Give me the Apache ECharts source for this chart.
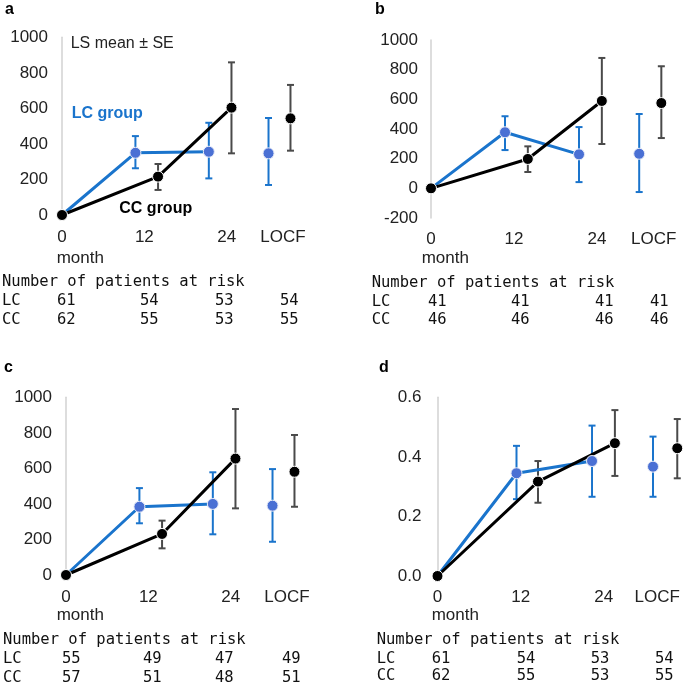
<!DOCTYPE html>
<html>
<head>
<meta charset="utf-8">
<script src="https://cdn.jsdelivr.net/npm/echarts@6/dist/echarts.min.js"></script>
<style>
html,body{margin:0;padding:0;background:#fff;}
#chart{width:685px;height:686px;}
</style>
</head>
<body>
<div id="chart"></div>
<script>
// ---- data ----
const tickLabels = ['0', '12', '24', 'LOCF'];
const tickPos = [0, 12, 24, 32.2];
const tickPosD = [0, 12, 24, 31.7];
// x positions of the offset points (months; LOCF plotted past 24)
const xLC = [0, 10.7, 21.4, 30.1];
const xCC = [0, 14.0, 24.7, 33.3];
const xLCd = [0, 11.4, 22.3, 31.1];
const xCCd = [0, 14.5, 25.6, 34.6];

// panel a
const aLC = [0, 350, 356, 347];
const aLClo = [null, 263, 206, 169];
const aLChi = [null, 444, 519, 546];
const aCC = [0, 216, 604, 544];
const aCClo = [null, 141, 347, 362];
const aCChi = [null, 287, 859, 732];
// panel b
const bLC = [0, 378, 229, 233];
const bLClo = [null, 258, 42, -25];
const bLChi = [null, 486, 413, 501];
const bCC = [0, 198, 589, 575];
const bCClo = [null, 110, 299, 339];
const bCChi = [null, 283, 879, 823];
// panel c
const cLC = [0, 384, 400, 390];
const cLClo = [null, 291, 229, 187];
const cLChi = [null, 489, 578, 596];
const cCC = [0, 231, 655, 581];
const cCClo = [null, 150, 375, 384];
const cCChi = [null, 306, 934, 788];
// panel d
const dLC = [0, 0.345, 0.386, 0.367];
const dLClo = [null, 0.258, 0.266, 0.266];
const dLChi = [null, 0.437, 0.505, 0.468];
const dCC = [0, 0.317, 0.446, 0.429];
const dCClo = [null, 0.246, 0.336, 0.328];
const dCChi = [null, 0.386, 0.557, 0.527];

// patients at risk
const riskHeader = 'Number of patients at risk';
const riskRows = ['LC', 'CC'];
const aRiskLC = [61, 54, 53, 54];
const aRiskCC = [62, 55, 53, 55];
const bRiskLC = [41, 41, 41, 41];
const bRiskCC = [46, 46, 46, 46];
const cRiskLC = [55, 49, 47, 49];
const cRiskCC = [57, 51, 48, 51];
const dRiskLC = [61, 54, 53, 54];
const dRiskCC = [62, 55, 53, 55];

// ---- layout ----
const BLUE = '#1a74cc';
const DOT_BLUE = '#4a70d4';
const GRAY = '#4a4a4a';
const FONT = "'Liberation Sans', Arial, Helvetica, sans-serif";
const MONO = "'DejaVu Sans Mono', monospace";

const panels = [
  {letter:'a', lx:5, ly:10, grid:{left:62, top:37.3, width:247, height:177.7}, xmax:36, ymin:0, ymax:1000, yint:200, dec:0, ylm:14, xlm:14,
   xl:xLC, xc:xCC, ticks:tickPos,
   lc:aLC, lcLo:aLClo, lcHi:aLChi, cc:aCC, ccLo:aCClo, ccHi:aCChi,
   riskLC:aRiskLC, riskCC:aRiskCC, monthX:56.7, monthY:258.3, tx:2, cols:[57,140,215,280], ty:[281.7,300.7,320]},
  {letter:'b', lx:375, ly:10, grid:{left:431, top:40, width:249, height:178}, xmax:36, ymin:-200, ymax:1000, yint:200, dec:0, ylm:13, xlm:13,
   xl:xLC, xc:xCC, ticks:tickPos,
   lc:bLC, lcLo:bLClo, lcHi:bLChi, cc:bCC, ccLo:bCClo, ccHi:bCChi,
   riskLC:bRiskLC, riskCC:bRiskCC, monthX:421.7, monthY:258.3, tx:371.7, cols:[428,511,595,650], ty:[283.3,302.3,320]},
  {letter:'c', lx:4, ly:368, grid:{left:66, top:397.3, width:247, height:177.7}, xmax:36, ymin:0, ymax:1000, yint:200, dec:0, ylm:14, xlm:14,
   xl:xLC, xc:xCC, ticks:tickPos,
   lc:cLC, lcLo:cLClo, lcHi:cLChi, cc:cCC, ccLo:cCClo, ccHi:cCChi,
   riskLC:cRiskLC, riskCC:cRiskCC, monthX:56.7, monthY:615, tx:3, cols:[62,143,215,282], ty:[640,659,678]},
  {letter:'d', lx:379, ly:368, grid:{left:437.5, top:397.3, width:246, height:178.7}, xmax:35.5, ymin:0, ymax:0.6, yint:0.2, dec:1, ylm:16, xlm:13,
   xl:xLCd, xc:xCCd, ticks:tickPosD,
   lc:dLC, lcLo:dLClo, lcHi:dLChi, cc:dCC, ccLo:dCClo, ccHi:dCChi,
   riskLC:dRiskLC, riskCC:dRiskCC, monthX:431.7, monthY:615, tx:376.7, cols:[431.7,516.7,590.7,655], ty:[640,659,675.7]}
];

function errRender(color) {
  return function (params, api) {
    const x = api.value(0), lo = api.value(1), hi = api.value(2);
    const pTop = api.coord([x, hi]);
    const pBot = api.coord([x, lo]);
    const cw = 3.5;
    const st = {stroke: color, lineWidth: 2};
    return {type:'group', children:[
      {type:'line', shape:{x1:pTop[0], y1:pTop[1], x2:pBot[0], y2:pBot[1]}, style:st},
      {type:'line', shape:{x1:pTop[0]-cw, y1:pTop[1], x2:pTop[0]+cw, y2:pTop[1]}, style:st},
      {type:'line', shape:{x1:pBot[0]-cw, y1:pBot[1], x2:pBot[0]+cw, y2:pBot[1]}, style:st}
    ]};
  };
}

const grids = [], xAxes = [], yAxes = [], series = [], graphics = [];

panels.forEach((p, i) => {
  grids.push(Object.assign({containLabel:false}, p.grid));
  const ticks = p.ticks;
  xAxes.push({
    type:'value', gridIndex:i, min:0, max:p.xmax,
    axisLine:{show:false}, axisTick:{show:false}, splitLine:{show:false},
    axisLabel:{
      customValues: ticks, margin:p.xlm, color:'#222', fontSize:17, fontFamily:FONT,
      formatter: v => { const k = ticks.findIndex(t => Math.abs(t - v) < 1e-6); return k >= 0 ? tickLabels[k] : ''; }
    }
  });
  yAxes.push({
    type:'value', gridIndex:i, min:p.ymin, max:p.ymax, interval:p.yint,
    axisLine:{show:true, lineStyle:{color:'#d2d2d2', width:1.5}},
    axisTick:{show:false}, splitLine:{show:false},
    axisLabel:{margin:p.ylm, color:'#222', fontSize:17, fontFamily:FONT,
      formatter: v => p.dec ? v.toFixed(p.dec) : String(Math.round(v))}
  });

  const lcPts = p.lc.map((v, k) => [p.xl[k], v]);
  const ccPts = p.cc.map((v, k) => [p.xc[k], v]);
  const lcErr = p.lcLo.map((v, k) => v === null ? null : [p.xl[k], v, p.lcHi[k]]).filter(d => d);
  const ccErr = p.ccLo.map((v, k) => v === null ? null : [p.xc[k], v, p.ccHi[k]]).filter(d => d);

  series.push({type:'custom', xAxisIndex:i, yAxisIndex:i, renderItem:errRender(BLUE), data:lcErr,
    encode:{x:0, y:[1,2]}, z:1, silent:true});
  series.push({type:'custom', xAxisIndex:i, yAxisIndex:i, renderItem:errRender(GRAY), data:ccErr,
    encode:{x:0, y:[1,2]}, z:1, silent:true});
  series.push({type:'line', xAxisIndex:i, yAxisIndex:i, data:lcPts.slice(0,3), showSymbol:false,
    lineStyle:{color:BLUE, width:3}, z:2, animation:false});
  series.push({type:'line', xAxisIndex:i, yAxisIndex:i, data:ccPts.slice(0,3), showSymbol:false,
    lineStyle:{color:'#000', width:3}, z:3, animation:false});
  series.push({type:'scatter', xAxisIndex:i, yAxisIndex:i, data:lcPts.slice(1), symbolSize:11,
    itemStyle:{color:DOT_BLUE, borderColor:'#e8ecf8', borderWidth:1, opacity:1}, z:4, animation:false});
  series.push({type:'scatter', xAxisIndex:i, yAxisIndex:i, data:ccPts, symbolSize:11,
    itemStyle:{color:'#000', borderColor:'#fff', borderWidth:1, opacity:1}, z:5, animation:false});

  // panel letter
  graphics.push({type:'text', x:p.lx, y:p.ly, style:{text:p.letter, font:'bold 16px ' + FONT, fill:'#000', verticalAlign:'middle'}});
  // month label
  graphics.push({type:'text', x:p.monthX, y:p.monthY, style:{text:'month', font:'17px ' + FONT, fill:'#222', verticalAlign:'middle'}});
  // risk table
  graphics.push({type:'text', x:p.tx, y:p.ty[0], style:{text:riskHeader, font:'15.5px ' + MONO, fill:'#111', verticalAlign:'middle'}});
  [p.riskLC, p.riskCC].forEach((row, r) => {
    graphics.push({type:'text', x:p.tx, y:p.ty[r+1], style:{text:riskRows[r], font:'15.5px ' + MONO, fill:'#111', verticalAlign:'middle'}});
    row.forEach((n, c) => {
      graphics.push({type:'text', x:p.cols[c], y:p.ty[r+1], style:{text:String(n), font:'15.5px ' + MONO, fill:'#111', verticalAlign:'middle'}});
    });
  });
});

// annotations in panel a
graphics.push({type:'text', x:70.7, y:43.3, style:{text:'LS mean \u00b1 SE', font:'16px ' + FONT, fill:'#222', verticalAlign:'middle'}});
graphics.push({type:'text', x:71.7, y:113.3, style:{text:'LC group', font:'bold 16px ' + FONT, fill:BLUE, verticalAlign:'middle'}});
graphics.push({type:'text', x:119.3, y:208.3, style:{text:'CC group', font:'bold 16px ' + FONT, fill:'#000', verticalAlign:'middle'}});

const chart = echarts.init(document.getElementById('chart'), null, {renderer:'canvas'});
chart.setOption({
  animation:false,
  backgroundColor:'#fff',
  grid:grids, xAxis:xAxes, yAxis:yAxes, series:series, graphic:graphics
});
</script>
</body>
</html>
